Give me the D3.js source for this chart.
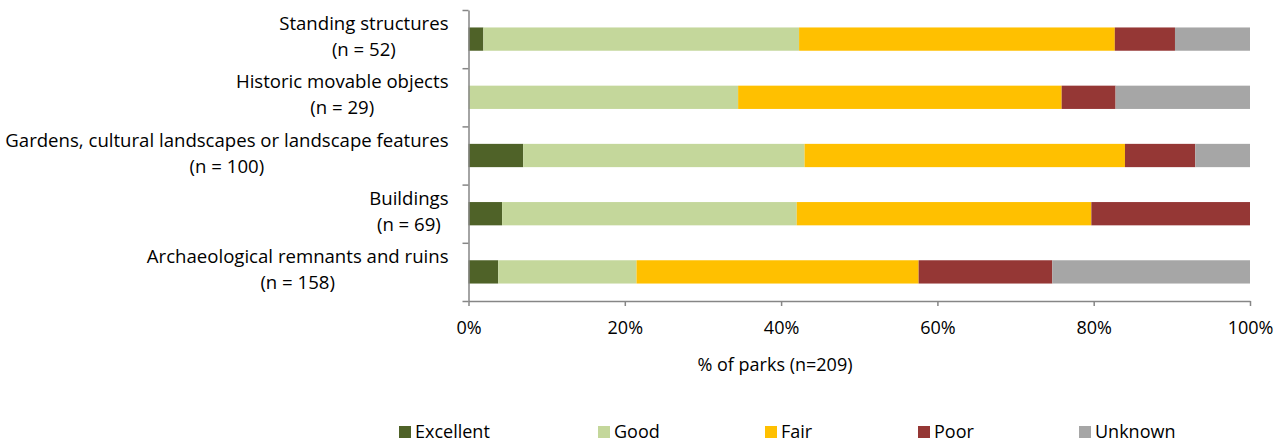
<!DOCTYPE html>
<html>
<head>
<meta charset="utf-8">
<script src="https://cdn.jsdelivr.net/npm/d3@7"></script>
<style>
  body { margin: 0; background: #fff; }
  svg { display: block; font-family: "Open Sans", sans-serif; }
</style>
</head>
<body>
<svg id="chart" width="1285" height="444"></svg>
<script>
// categories, top to bottom
const categories = [
  'Standing structures',
  'Historic movable objects',
  'Gardens, cultural landscapes or landscape features',
  'Buildings',
  'Archaeological remnants and ruins'
];
const counts = ['(n = 52)', '(n = 29)', '(n = 100)', '(n = 69)', '(n = 158)'];

// % of parks per condition
const excellent = [1.9, 0, 7, 4.3, 3.8];
const good      = [40.4, 34.5, 36, 37.7, 17.7];
const fair      = [40.4, 41.4, 41, 37.7, 36.1];
const poor      = [7.7, 6.9, 9, 20.3, 17.1];
const unknown   = [9.6, 17.2, 7, 0, 25.3];

const seriesNames = ['Excellent', 'Good', 'Fair', 'Poor', 'Unknown'];
const xTicks = [0, 20, 40, 60, 80, 100];
const xTitle = '% of parks (n=209)';

const colors = ['#4f6228', '#c4d79b', '#ffc000', '#953735', '#a6a6a6'];

const svg = d3.select('#chart');
const margin = { left: 468.5, right: 35, top: 10, bottom: 143 };
const width = 1285, height = 444;
const fs = 18;

const rows = categories.map((c, i) => ({
  cat: c,
  Excellent: excellent[i],
  Good: good[i],
  Fair: fair[i],
  Poor: poor[i],
  Unknown: unknown[i]
}));

const x = d3.scaleLinear().domain([0, 100]).range([margin.left, width - margin.right]);
const y = d3.scaleBand()
  .domain(categories)
  .range([margin.top, height - margin.bottom])
  .paddingInner(0.6)
  .paddingOuter(0.3);

const color = d3.scaleOrdinal().domain(seriesNames).range(colors);
const stacked = d3.stack().keys(seriesNames)(rows);

// bars
svg.append('g')
  .selectAll('g')
  .data(stacked)
  .join('g')
  .attr('fill', d => color(d.key))
  .selectAll('rect')
  .data(d => d)
  .join('rect')
  .attr('x', d => x(d[0]))
  .attr('y', d => y(d.data.cat))
  .attr('width', d => x(d[1]) - x(d[0]))
  .attr('height', y.bandwidth());

// x axis
const xAxis = svg.append('g')
  .attr('transform', `translate(0,${height - margin.bottom})`)
  .call(d3.axisBottom(x).tickValues(xTicks).tickFormat(d => d + '%').tickSize(5).tickSizeOuter(0));
xAxis.select('.domain').attr('stroke', '#868686').attr('stroke-width', 1.5);
xAxis.selectAll('.tick line').attr('stroke', '#868686').attr('stroke-width', 1.5);
xAxis.selectAll('.tick text')
  .attr('font-family', '"Open Sans", sans-serif')
  .attr('font-size', fs).attr('fill', '#000').attr('dy', null).attr('y', 33);

// y axis: ticks on band boundaries
const yEdge = d3.scaleLinear().domain([0, categories.length]).range([margin.top, height - margin.bottom]);
const yAxis = svg.append('g')
  .attr('transform', `translate(${margin.left},0)`)
  .call(d3.axisLeft(yEdge).ticks(categories.length).tickFormat('').tickSize(6).tickSizeOuter(0));
yAxis.select('.domain').attr('stroke', '#868686').attr('stroke-width', 1.5);
yAxis.selectAll('.tick line').attr('stroke', '#868686').attr('stroke-width', 1.5);

// category labels
const labelRight = margin.left - 20;
const labels = svg.append('g')
  .attr('font-size', 18.6)
  .attr('fill', '#000');
categories.forEach((c, i) => {
  const cy = y(c) + y.bandwidth() / 2;
  const t = labels.append('text');
  t.append('tspan').attr('class', 'l1').attr('text-anchor', 'end')
    .attr('x', labelRight).attr('y', cy - 9).text(c);
  t.append('tspan').attr('class', 'l2').attr('text-anchor', 'middle')
    .attr('x', labelRight).attr('y', cy + 17).text(counts[i]);
});
// centre the count line under its label
labels.selectAll('text').each(function () {
  const w = d3.select(this).select('.l1').node().getComputedTextLength();
  d3.select(this).select('.l2').attr('x', labelRight - w / 2);
});

// x title
svg.append('text')
  .attr('x', 775)
  .attr('y', 371)
  .attr('text-anchor', 'middle')
  .attr('font-size', fs)
  .text(xTitle);

// legend
const legendX = [399, 598, 765, 918, 1079];
const legend = svg.append('g');
seriesNames.forEach((s, i) => {
  const g = legend.append('g').attr('transform', `translate(${legendX[i]},426)`);
  g.append('rect').attr('width', 12).attr('height', 12).attr('fill', color(s));
  g.append('text').attr('x', 16).attr('y', 12).attr('font-size', fs).text(s);
});
</script>
</body>
</html>
